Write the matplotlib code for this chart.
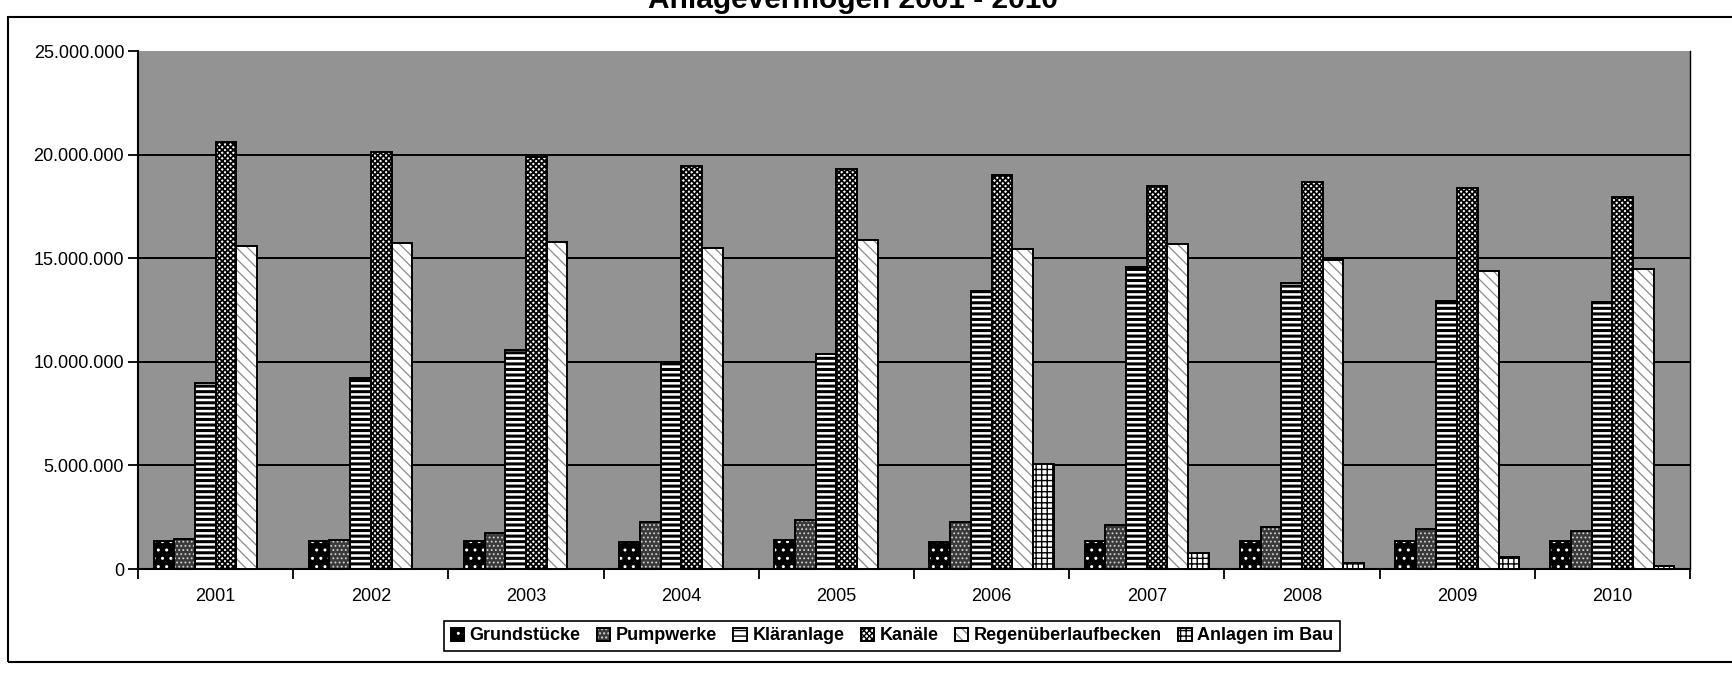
import numpy as np
import matplotlib
matplotlib.use("Agg")
import matplotlib.pyplot as plt
from matplotlib.patches import Rectangle
from matplotlib.legend_handler import HandlerTuple
from matplotlib.ticker import FuncFormatter, FixedLocator
from matplotlib import font_manager

# Anlagevermögen in Euro
jahre = ["2001", "2002", "2003", "2004", "2005", "2006", "2007", "2008", "2009", "2010"]
grundstuecke = [1.37e6, 1.37e6, 1.34e6, 1.32e6, 1.39e6, 1.32e6, 1.35e6, 1.34e6, 1.33e6, 1.36e6]
pumpwerke = [1.44e6, 1.42e6, 1.74e6, 2.29e6, 2.39e6, 2.26e6, 2.13e6, 2.03e6, 1.92e6, 1.85e6]
klaeranlage = [8.96e6, 9.21e6, 10.56e6, 10.0e6, 10.4e6, 13.42e6, 14.6e6, 13.8e6, 12.95e6, 12.9e6]
kanaele = [20.62e6, 20.15e6, 19.9e6, 19.44e6, 19.3e6, 19.0e6, 18.5e6, 18.7e6, 18.4e6, 17.96e6]
regenueberlauf = [15.58e6, 15.73e6, 15.8e6, 15.52e6, 15.9e6, 15.44e6, 15.7e6, 14.92e6, 14.4e6, 14.46e6]
anlagen_im_bau = [0, 0, 0, 0, 0, 5.05e6, 0.76e6, 0.28e6, 0.56e6, 0.15e6]

serien = ["Grundstücke", "Pumpwerke", "Kläranlage", "Kanäle", "Regenüberlaufbecken", "Anlagen im Bau"]
werte = [grundstuecke, pumpwerke, klaeranlage, kanaele, regenueberlauf, anlagen_im_bau]
y_ticks = [0, 5e6, 10e6, 15e6, 20e6, 25e6]

# face colour, hatch, hatch colour, hatch linewidth
stile = [
    ("black", "..", "white", 1.0),
    ("#3a3a3a", "....", "#d0d0d0", 0.8),
    ("white", "---", "black", 2.2),
    ("white", "xxxxxx", "black", 1.3),
    ("white", "\\\\\\", "#8a8a8a", 0.9),
    ("white", "+++", "black", 1.0),
]

plt.rcParams["font.family"] = ["Liberation Sans", "DejaVu Sans"]

try:
    font_manager.findfont("Liberation Sans Narrow", fallback_to_default=False)
    legend_font = {"family": "Liberation Sans Narrow", "weight": "bold", "size": 15}
except ValueError:
    legend_font = {"family": "Liberation Sans", "weight": "bold", "size": 13}

fig = plt.figure(figsize=(17.32, 6.73), dpi=100)
ax = fig.add_axes([0.0797, 0.1545, 0.896, 0.7695])
ax.set_facecolor("#939393")

x = np.arange(len(jahre))
breite = 1 / 7.5
handles = []
for i, (name, vals, (fc, hatch, hc, hlw)) in enumerate(zip(serien, werte, stile)):
    pos = x - 0.4 + breite * (i + 0.5)
    with plt.rc_context({"hatch.linewidth": hlw}):
        fill = ax.bar(pos, vals, breite, color=fc, edgecolor=hc, hatch=hatch, linewidth=0, zorder=3)
    rand = ax.bar(pos, vals, breite, fill=False, edgecolor="black", linewidth=1.4, zorder=4)
    handles.append((fill, rand))

for v in y_ticks[1:-1]:
    ax.axhline(v, color="black", linewidth=1.4, zorder=1)

ax.set_xlim(-0.5, len(jahre) - 0.5)
ax.set_ylim(0, 25e6)
ax.set_yticks(y_ticks)
ax.yaxis.set_major_formatter(FuncFormatter(lambda v, p: f"{int(v):,}".replace(",", ".")))
ax.set_xticks(x)
ax.set_xticklabels(jahre)
ax.xaxis.set_minor_locator(FixedLocator(np.arange(-0.5, len(jahre), 1.0)))
ax.tick_params(axis="x", which="major", length=0, pad=14, labelsize=13)
ax.tick_params(axis="x", which="minor", length=7, width=1.3, direction="out")
ax.tick_params(axis="y", length=7, width=1.3, direction="out", pad=3, labelsize=13)

ax.spines["top"].set_visible(False)
ax.spines["left"].set_linewidth(1.5)
ax.spines["bottom"].set_linewidth(1.5)
ax.spines["right"].set_linewidth(1.0)

leg = fig.legend(handles, serien, loc="center", bbox_to_anchor=(0.515, 0.055), ncol=6,
                 handler_map={tuple: HandlerTuple(ndivide=1, pad=0)},
                 handlelength=0.75, handleheight=0.75, handletextpad=0.3, columnspacing=0.9,
                 borderpad=0.35, fancybox=False, framealpha=1, edgecolor="black",
                 prop=legend_font)
leg.get_frame().set_linewidth(1.2)

# Rahmen um das Diagramm
fig.patches.append(Rectangle((0.0046, 0.0163), 1.1, 0.9584, transform=fig.transFigure,
                             fill=False, edgecolor="black", linewidth=1.5))

fig.text(0.4925, 1 - 8 / 673, "Anlagevermögen 2001 - 2010", ha="center", va="baseline",
         fontsize=21.5, fontweight="bold")

fig.savefig("out.png", dpi=100)
